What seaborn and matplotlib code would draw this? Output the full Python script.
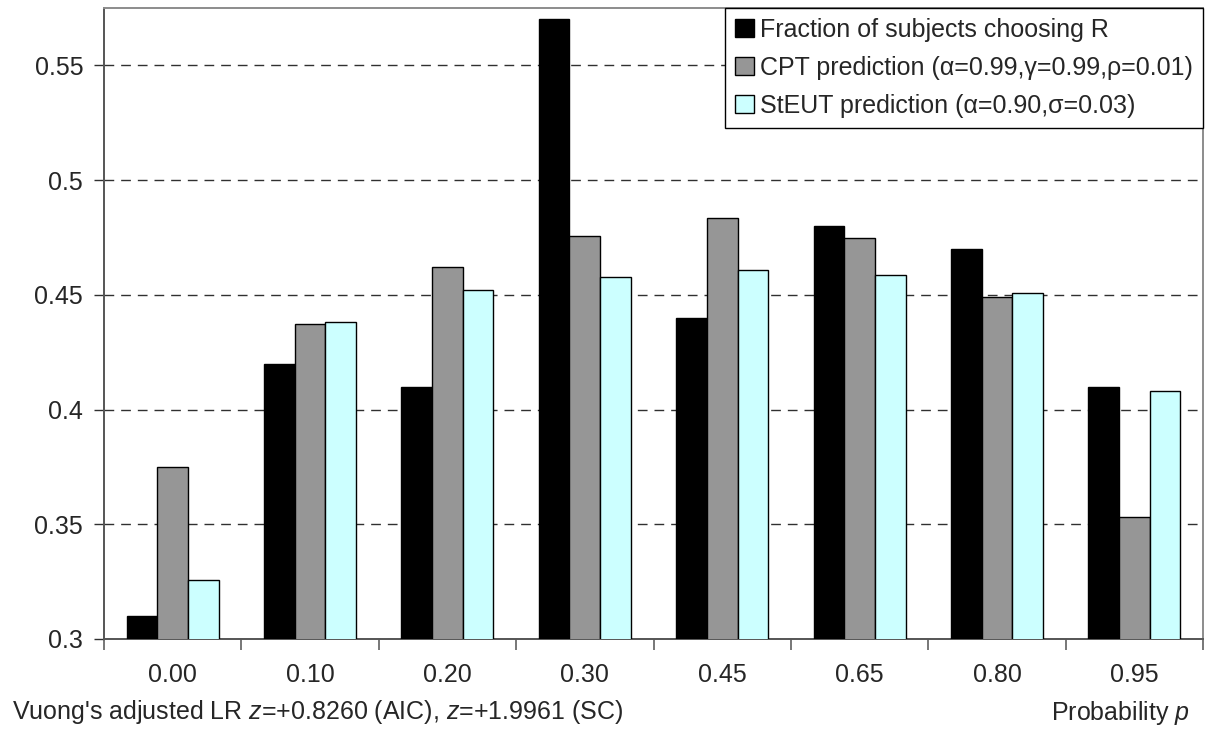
import matplotlib
matplotlib.use("Agg")
import matplotlib.pyplot as plt
import seaborn as sns
import pandas as pd
import numpy as np

categories = ["0.00", "0.10", "0.20", "0.30", "0.45", "0.65", "0.80", "0.95"]
fraction_R = [0.310, 0.420, 0.410, 0.570, 0.440, 0.480, 0.470, 0.410]
cpt_pred = [0.3748, 0.4373, 0.4622, 0.4755, 0.4835, 0.4747, 0.4491, 0.3532]
steut_pred = [0.3256, 0.4382, 0.4520, 0.4578, 0.4607, 0.4585, 0.4509, 0.4080]
series_names = ["Fraction of subjects choosing R",
                "CPT prediction (\u03b1=0.99,\u03b3=0.99,\u03c1=0.01)",
                "StEUT prediction (\u03b1=0.90,\u03c3=0.03)"]
series_colors = ["#000000", "#969696", "#CCFFFF"]
y_ticks = [0.3, 0.35, 0.4, 0.45, 0.5, 0.55]
y_tick_labels = ["0.3", "0.35", "0.4", "0.45", "0.5", "0.55"]

df = pd.DataFrame({
    "p": categories * 3,
    "value": fraction_R + cpt_pred + steut_pred,
    "series": [series_names[0]] * 8 + [series_names[1]] * 8 + [series_names[2]] * 8,
})

sns.set_theme(style="white")
plt.rcParams["font.family"] = ["Liberation Sans", "DejaVu Sans"]
plt.rcParams["mathtext.fontset"] = "custom"
plt.rcParams["mathtext.it"] = "Liberation Sans:italic"
plt.rcParams["mathtext.rm"] = "Liberation Sans"

FS = 18

fig = plt.figure(figsize=(12.09, 7.33), dpi=100)
ax = fig.add_axes([104 / 1209, 1 - 639 / 733, (1203 - 104) / 1209, (639 - 8) / 733])

sns.barplot(data=df, x="p", y="value", hue="series", palette=series_colors,
            order=categories, hue_order=series_names, width=0.67,
            edgecolor="black", linewidth=1.0, saturation=1, ax=ax, zorder=3)

ax.set_ylim(0.3, 0.575)
ax.set_xlim(-0.5, 7.5)
ax.set_yticks(y_ticks)
ax.set_yticklabels(y_tick_labels, fontsize=FS)
ax.set_xticks(range(len(categories)))
ax.set_xticklabels(categories, fontsize=FS)
ax.set_xticks(np.arange(-0.5, 8.0, 1.0), minor=True)
ax.tick_params(axis="x", which="major", length=0, pad=17)
ax.tick_params(axis="x", which="minor", length=8, width=1.2, color="#606060", direction="out", bottom=True)
ax.tick_params(axis="y", which="major", length=7, width=1, color="#303030", direction="out", left=True, pad=8)
ax.set_xlabel("")
ax.set_ylabel("")

ax.yaxis.grid(True, linestyle=(0, (7, 5)), color="#303030", linewidth=1.0, zorder=0)
ax.set_axisbelow(True)

for side in ["left", "bottom"]:
    ax.spines[side].set_color("#555555")
    ax.spines[side].set_linewidth(1.4)
for side in ["top", "right"]:
    ax.spines[side].set_color("#8c8c8c")
    ax.spines[side].set_linewidth(1.4)

handles, labels = ax.get_legend_handles_labels()
leg = ax.legend(handles, labels, loc="upper right", bbox_to_anchor=(1.0, 1.0),
                fontsize=FS, frameon=True, fancybox=False, framealpha=1,
                edgecolor="black", handlelength=0.75, handleheight=0.75,
                handletextpad=0.25, borderpad=0.4, labelspacing=0.55,
                borderaxespad=0.0)
leg.get_frame().set_linewidth(1.0)

fig.text(12 / 1209, 1 - 712 / 733, "Vuong's adjusted LR $z$=+0.8260 (AIC), $z$=+1.9961 (SC)",
         fontsize=FS, ha="left", va="center")
fig.text(1190 / 1209, 1 - 713 / 733, "Probability $p$", fontsize=FS, ha="right", va="center")

fig.savefig("out.png", dpi=100, facecolor="white")
